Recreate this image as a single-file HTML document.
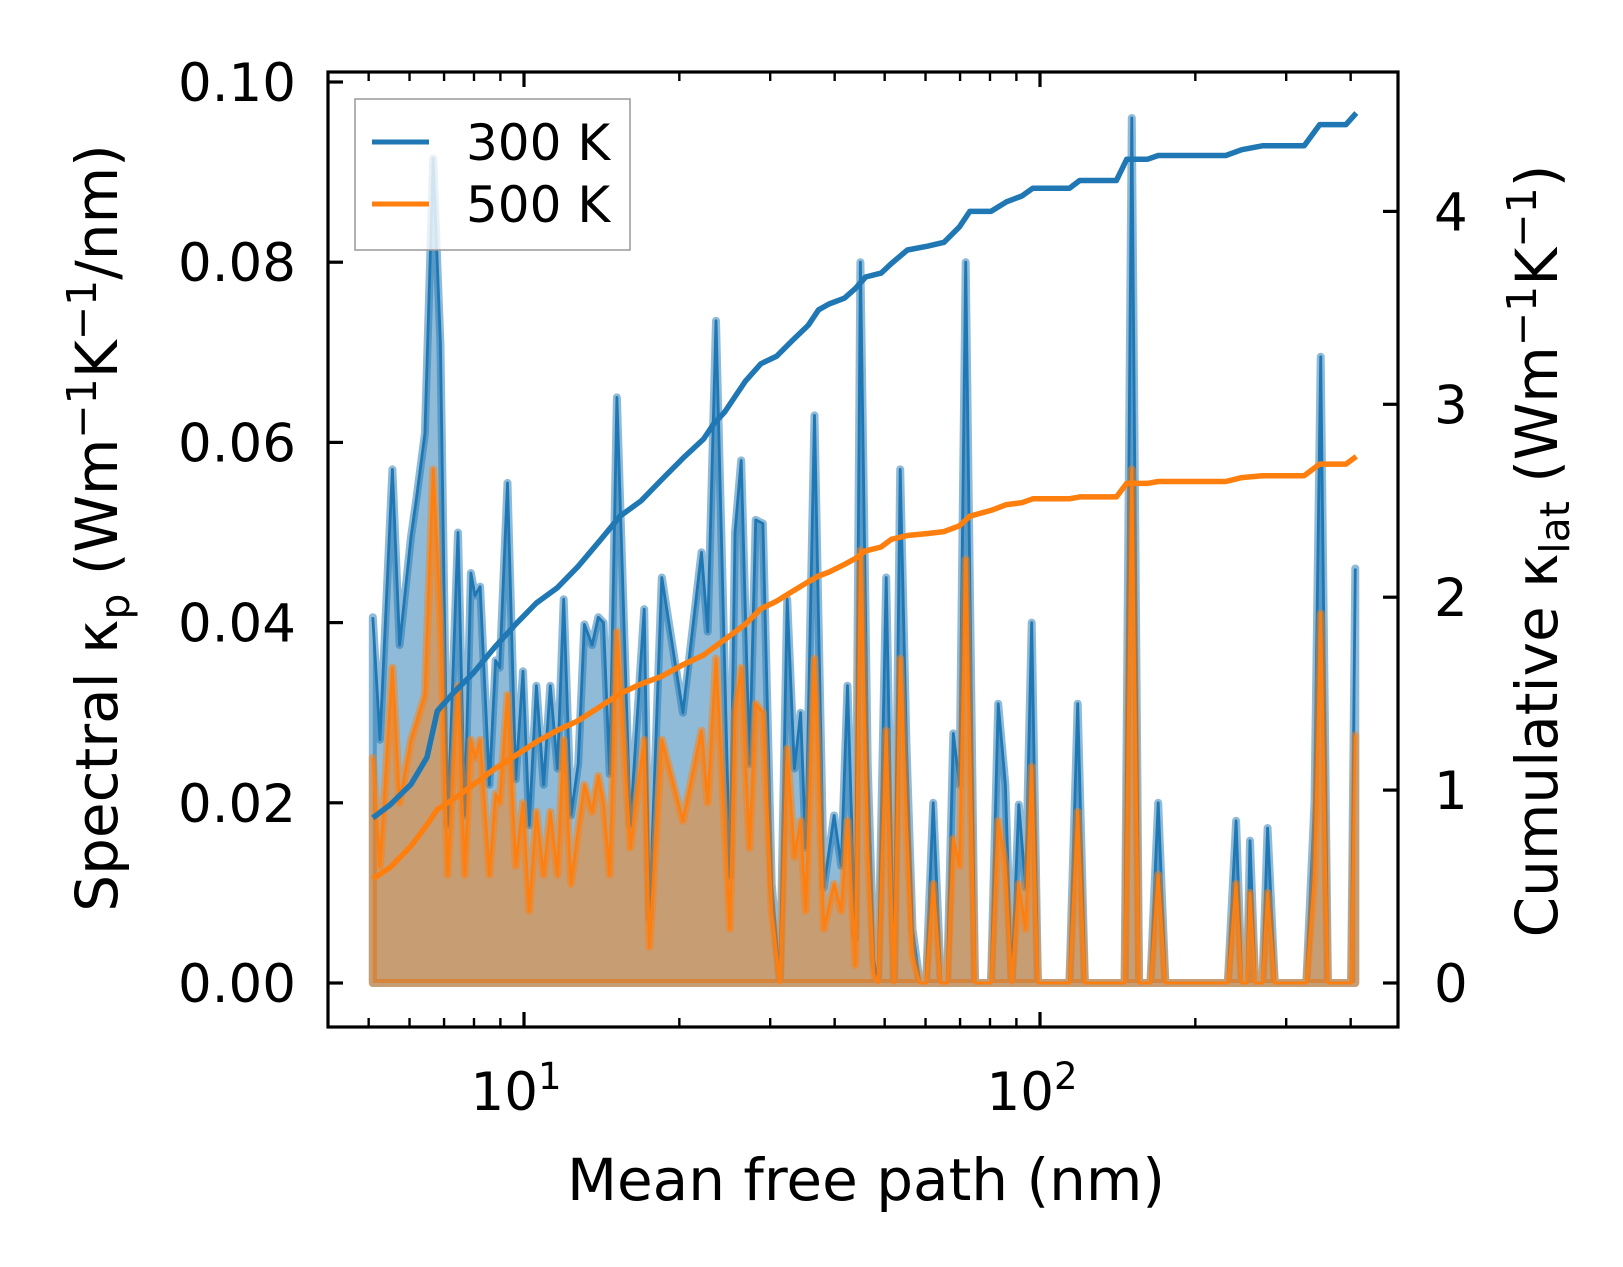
<!DOCTYPE html>
<html><head><meta charset="utf-8"><style>
html,body{margin:0;padding:0;background:#fff}
svg{display:block;font-family:"DejaVu Sans","Liberation Sans",sans-serif}
</style></head><body>
<svg id="chart" width="1623" height="1267" viewBox="0 0 1623 1267" xmlns="http://www.w3.org/2000/svg">
<g id="plot"></g>
</svg>
<script>
// log10 of mean free path (nm) for spectral points
const logMfp = [0.707,0.721,0.745,0.759,0.781,0.792,0.808,0.824,0.838,0.852,0.872,0.885,0.897,0.905,0.915,0.933,0.945,0.953,0.968,0.984,0.998,1.010,1.024,1.038,1.051,1.065,1.077,1.091,1.105,1.117,1.132,1.144,1.154,1.166,1.180,1.206,1.233,1.243,1.267,1.308,1.344,1.356,1.372,1.399,1.409,1.421,1.437,1.449,1.463,1.480,1.496,1.510,1.524,1.536,1.546,1.563,1.581,1.601,1.615,1.627,1.642,1.652,1.666,1.678,1.686,1.702,1.717,1.729,1.741,1.753,1.767,1.779,1.793,1.808,1.820,1.832,1.844,1.856,1.874,1.891,1.905,1.919,1.933,1.945,1.959,1.972,1.984,1.996,2.057,2.073,2.087,2.148,2.164,2.178,2.192,2.214,2.229,2.243,2.364,2.380,2.391,2.401,2.407,2.417,2.431,2.441,2.455,2.516,2.532,2.544,2.558,2.603,2.611];
const k300 = [.0406,.027,.057,.0375,.0495,.054,.061,.0915,.071,.0175,.050,.0186,.0455,.043,.044,.022,.0358,.035,.0555,.0226,.0346,.0175,.033,.022,.033,.0238,.0426,.0186,.0243,.0398,.0375,.0406,.040,.0232,.065,.0175,.0415,.0072,.045,.030,.0478,.039,.0735,.0118,.050,.058,.0243,.0514,.051,.011,.0003,.0426,.0238,.030,.015,.063,.0106,.0186,.013,.033,.005,.080,.0243,.0026,0,.045,0,.057,.0266,.006,0,0,.020,0,0,.0277,.022,.080,0,0,0,.031,.022,0,.0198,.0106,.040,0,0,.031,0,0,0,.096,0,0,.020,0,0,.018,0,0,.0158,0,0,.0172,0,0,.02,.0695,0,0,.046];
const k500 = [.025,.013,.035,.020,.027,.029,.032,.057,.040,.012,.033,.012,.027,.025,.027,.012,.021,.020,.032,.013,.020,.008,.019,.012,.019,.012,.027,.011,.017,.022,.019,.023,.020,.012,.039,.015,.027,.004,.027,.018,.028,.020,.036,.006,.030,.035,.015,.031,.030,.008,0,.026,.014,.018,.008,.036,.006,.011,.008,.018,.002,.048,.015,.001,0,.028,0,.036,.018,.003,0,0,.011,0,0,.016,.013,.047,0,0,0,.018,.013,0,.011,.006,.024,0,0,.019,0,0,0,.057,0,0,.012,0,0,.011,0,0,.010,0,0,.010,0,0,.012,.041,0,0,.0275];
// cumulative kappa
const cumLogMfp = [.707,.741,.781,.812,.832,.862,.903,.943,.984,1.024,1.065,1.105,1.146,1.186,1.227,1.267,1.308,1.348,1.368,1.389,1.409,1.429,1.459,1.490,1.520,1.551,1.571,1.591,1.621,1.642,1.662,1.692,1.712,1.743,1.783,1.814,1.844,1.864,1.905,1.935,1.965,1.986,2.057,2.077,2.148,2.168,2.208,2.229,2.360,2.391,2.431,2.512,2.542,2.593,2.613];
const cum300 = [.856,.925,1.03,1.17,1.41,1.50,1.61,1.74,1.86,1.97,2.05,2.16,2.29,2.42,2.50,2.61,2.72,2.82,2.90,2.96,3.04,3.12,3.21,3.25,3.33,3.41,3.49,3.52,3.55,3.60,3.66,3.68,3.73,3.80,3.82,3.84,3.92,4.00,4.00,4.05,4.08,4.12,4.12,4.16,4.16,4.27,4.27,4.29,4.29,4.32,4.34,4.34,4.45,4.45,4.51];
const cum500 = [.54,.60,.71,.82,.90,.95,1.03,1.11,1.18,1.25,1.31,1.36,1.43,1.50,1.55,1.59,1.65,1.70,1.74,1.78,1.82,1.86,1.94,1.98,2.03,2.08,2.11,2.13,2.17,2.20,2.24,2.26,2.30,2.32,2.33,2.34,2.37,2.42,2.45,2.48,2.49,2.51,2.51,2.52,2.52,2.59,2.59,2.60,2.60,2.62,2.63,2.63,2.69,2.69,2.73];
const leftTicks = [0,0.02,0.04,0.06,0.08,0.10];
const leftTickLabels = ["0.00","0.02","0.04","0.06","0.08","0.10"];
const rightTicks = [0,1,2,3,4];
const xMajor = [10,100];
const xMinor = [5,6,7,8,9,20,30,40,50,60,70,80,90,200,300,400];

const L=328,R=1398,T=72,B=1027;
const X = lx => 524 + (lx-1)*516;
const YL = v => 983 - v*9010;
const YR = v => 983 - v*192.9;
const NS="http://www.w3.org/2000/svg";
const g=document.getElementById('plot');
function mk(tag,attrs,parent){const e=document.createElementNS(NS,tag);for(const k in attrs)e.setAttribute(k,attrs[k]);(parent||g).appendChild(e);return e;}

function spectral(vals,color,name){
  let d='M'+X(logMfp[0])+','+YL(0);
  logMfp.forEach((lx,i)=>{d+=' L'+X(lx).toFixed(1)+','+YL(vals[i]).toFixed(1);});
  d+=' L'+X(logMfp[logMfp.length-1])+','+YL(0)+' Z';
  const f=mk('path',{d:d,fill:color,'fill-opacity':0.5,stroke:color,'stroke-opacity':0.5,'stroke-width':8,'stroke-linejoin':'round'});
  
  
  let d2='';
  logMfp.forEach((lx,i)=>{d2+=(i?' L':'M')+X(lx).toFixed(1)+','+YL(vals[i]).toFixed(1);});
  const l=mk('path',{d:d2,fill:'none',stroke:color,'stroke-width':2.8,'stroke-linejoin':'round'});
  
  
}
spectral(k300,'#1f77b4','300k');
spectral(k500,'#ff7f0e','500k');

function cum(vals,color,name){
  let d='';
  cumLogMfp.forEach((lx,i)=>{d+=(i?' L':'M')+X(lx).toFixed(1)+','+YR(vals[i]).toFixed(1);});
  const l=mk('path',{d:d,fill:'none',stroke:color,'stroke-width':5.5,'stroke-linejoin':'round'});
  
  
}
cum(cum300,'#1f77b4','300k');
cum(cum500,'#ff7f0e','500k');

// frame
const fr=mk('rect',{x:L,y:T,width:R-L,height:B-T,fill:'none',stroke:'#000','stroke-width':3.2});



// left ticks
leftTicks.forEach((v,i)=>{
  const y=YL(v);
  mk('line',{x1:L,x2:L+15,y1:y,y2:y,stroke:'#000','stroke-width':3.2});
  const t=mk('text',{x:296,y:y+19,'text-anchor':'end','font-size':53,fill:'#000'});
  t.textContent=leftTickLabels[i];
  
  
});
// right ticks
rightTicks.forEach(v=>{
  const y=YR(v);
  mk('line',{x1:R-15,x2:R,y1:y,y2:y,stroke:'#000','stroke-width':3.2});
  const t=mk('text',{x:1434,y:y+19,'text-anchor':'start','font-size':53,fill:'#000'});
  t.textContent=String(v);
  
  
});
// x ticks
xMajor.forEach(v=>{
  const x=X(Math.log10(v));
  mk('line',{x1:x,x2:x,y1:B,y2:B-15,stroke:'#000','stroke-width':3.2});
  mk('line',{x1:x,x2:x,y1:T,y2:T+15,stroke:'#000','stroke-width':3.2});
  const t=mk('text',{x:x-8,y:1110,'text-anchor':'middle','font-size':53,fill:'#000'});
  t.textContent='10';
  const s=mk('tspan',{dy:-21,'font-size':37},t);
  s.textContent=String(Math.round(Math.log10(v)));
  
  
});
xMinor.forEach(v=>{
  const x=X(Math.log10(v));
  mk('line',{x1:x,x2:x,y1:B,y2:B-9,stroke:'#000','stroke-width':2.4});
  mk('line',{x1:x,x2:x,y1:T,y2:T+9,stroke:'#000','stroke-width':2.4});
});
</script>
<div style="position:absolute;left:0;top:0;width:1623px;height:1267px;pointer-events:none">
<svg width="1623" height="1267" style="position:absolute;left:0;top:0" font-family="DejaVu Sans, Liberation Sans, sans-serif">
  <text x="866" y="1200" text-anchor="middle" font-size="58" fill="#000">Mean free path (nm)</text>
  <text transform="translate(117,528) rotate(-90)" text-anchor="middle" font-size="58" fill="#000">Spectral κ<tspan font-size="41" dy="12">p</tspan><tspan dy="-12"> (Wm</tspan><tspan font-size="41" dy="-21">−1</tspan><tspan dy="21">K</tspan><tspan font-size="41" dy="-21">−1</tspan><tspan dy="21">/nm)</tspan></text>
  <text transform="translate(1557,551) rotate(-90)" text-anchor="middle" font-size="58" fill="#000">Cumulative κ<tspan font-size="41" dy="12">lat</tspan><tspan dy="-12"> (Wm</tspan><tspan font-size="41" dy="-21">−1</tspan><tspan dy="21">K</tspan><tspan font-size="41" dy="-21">−1</tspan><tspan dy="21">)</tspan></text>
  <g>
    <rect x="355" y="99" width="275" height="151" fill="#fff" fill-opacity="0.8" stroke="#999" stroke-width="1.5"/>
    <line x1="372" x2="429" y1="142" y2="142" stroke="#1f77b4" stroke-width="5"/>
    <text x="466" y="160" font-size="50" fill="#000">300 K</text>
    <line x1="372" x2="429" y1="204" y2="204" stroke="#ff7f0e" stroke-width="5"/>
    <text x="466" y="222" font-size="50" fill="#000">500 K</text>
  </g>
</svg>
</div>
</body></html>
